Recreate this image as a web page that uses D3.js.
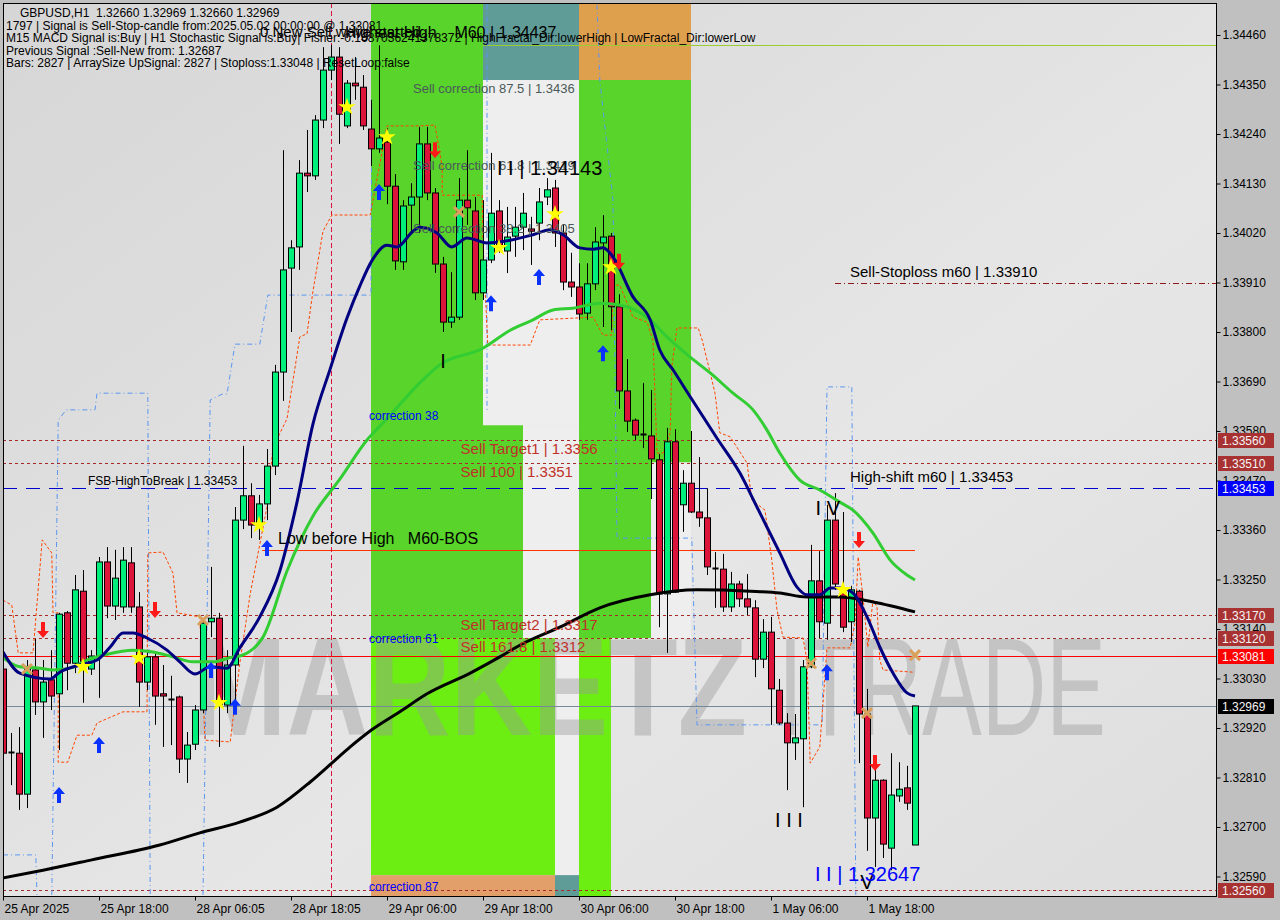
<!DOCTYPE html>
<html><head><meta charset="utf-8">
<script src="https://cdn.jsdelivr.net/npm/d3@7"></script>
<style>body{margin:0;background:#c0c0c0;overflow:hidden}svg{display:block;font-family:"Liberation Sans",Arial,sans-serif}</style>
</head><body><svg id="c" width="1280" height="920"></svg>
<script>
// ---------- DATA ----------
const xLabels = ["25 Apr 2025","25 Apr 18:00","28 Apr 06:05","28 Apr 18:05","29 Apr 06:00","29 Apr 18:00","30 Apr 06:00","30 Apr 18:00","1 May 06:00","1 May 18:00"];
const xTickIdx = [0,12,24,36,48,60,72,84,96,108];
const yTicks = [1.32590,1.32700,1.32810,1.32920,1.33030,1.33140,1.33250,1.33360,1.33470,1.33580,1.33690,1.33800,1.33910,1.34020,1.34130,1.34240,1.34350,1.34460];

const open = [1.33051,1.32867,1.32864,1.32773,1.33049,1.32978,1.33027,1.32996,1.33176,1.33064,1.33224,1.33051,1.33080,1.33289,1.33191,1.33189,1.33287,1.33189,1.33022,1.33078,1.32996,1.32984,1.32989,1.32851,1.32884,1.32960,1.33156,1.33164,1.32971,1.33060,1.33382,1.33436,1.33371,1.33418,1.33502,1.33711,1.33942,1.33989,1.34153,1.34147,1.34271,1.34382,1.34411,1.34258,1.34353,1.34344,1.34251,1.34207,1.34222,1.34124,1.33956,1.34082,1.34100,1.34218,1.34109,1.33951,1.33822,1.33833,1.34093,1.34069,1.33887,1.33960,1.34069,1.33980,1.34013,1.34033,1.34029,1.34042,1.34100,1.34120,1.34020,1.33911,1.33900,1.33842,1.33907,1.33998,1.34013,1.33856,1.33669,1.33604,1.33573,1.33569,1.33516,1.33218,1.33556,1.33416,1.33464,1.33400,1.33387,1.33276,1.33273,1.33189,1.33240,1.33207,1.33187,1.33073,1.33133,1.33004,1.32931,1.32887,1.32896,1.33056,1.33247,1.33153,1.33382,1.33220,1.33156,1.33224,1.32951,1.32720,1.32804,1.32653,1.32769,1.32787,1.32660];
const high = [1.33093,1.32909,1.32922,1.33071,1.33118,1.33071,1.33093,1.33176,1.33180,1.33260,1.33271,1.33093,1.33300,1.33322,1.33316,1.33322,1.33322,1.33222,1.33093,1.33087,1.33060,1.33036,1.32992,1.32911,1.32971,1.33160,1.33278,1.33176,1.33093,1.33411,1.33547,1.33464,1.33438,1.33540,1.33727,1.34204,1.34004,1.34182,1.34249,1.34282,1.34433,1.34438,1.34433,1.34360,1.34411,1.34371,1.34316,1.34437,1.34253,1.34151,1.34093,1.34131,1.34256,1.34256,1.34120,1.33967,1.33933,1.34142,1.34204,1.34100,1.34093,1.34198,1.34093,1.34078,1.34078,1.34109,1.34056,1.34120,1.34142,1.34138,1.34038,1.33976,1.33953,1.33953,1.34033,1.34060,1.34020,1.33884,1.33740,1.33608,1.33687,1.33671,1.33529,1.33587,1.33584,1.33493,1.33580,1.33522,1.33453,1.33311,1.33307,1.33267,1.33247,1.33262,1.33204,1.33162,1.33167,1.33029,1.32953,1.32951,1.33071,1.33327,1.33313,1.33416,1.33442,1.33400,1.33236,1.33227,1.33007,1.32827,1.32806,1.32864,1.32844,1.32836,1.32969];
const low = [1.32827,1.32793,1.32738,1.32742,1.32949,1.32898,1.32960,1.32871,1.33004,1.33042,1.32976,1.33038,1.32987,1.33164,1.33160,1.33176,1.33176,1.32967,1.33004,1.32927,1.32878,1.32882,1.32820,1.32798,1.32871,1.32953,1.33122,1.32878,1.32953,1.32953,1.33362,1.33342,1.33338,1.33382,1.33482,1.33647,1.33800,1.33938,1.34111,1.34138,1.34253,1.34360,1.34218,1.34253,1.34316,1.34249,1.34169,1.34198,1.34084,1.33938,1.33938,1.34020,1.34020,1.34093,1.33931,1.33800,1.33809,1.33827,1.34038,1.33871,1.33871,1.33953,1.33976,1.33931,1.33967,1.33982,1.33949,1.34004,1.34082,1.33989,1.33893,1.33878,1.33827,1.33827,1.33893,1.33811,1.33804,1.33629,1.33578,1.33560,1.33542,1.33429,1.33144,1.33087,1.33220,1.33356,1.33398,1.33367,1.33260,1.33187,1.33178,1.33178,1.33189,1.33171,1.33033,1.33053,1.32927,1.32927,1.32782,1.32849,1.32744,1.33053,1.33120,1.33116,1.33227,1.33133,1.33111,1.32842,1.32647,1.32611,1.32631,1.32604,1.32756,1.32738,1.32660];
const close = [1.32864,1.32865,1.32773,1.33053,1.32978,1.33022,1.32991,1.33173,1.33064,1.33227,1.33064,1.33080,1.33289,1.33191,1.33253,1.33293,1.33189,1.33022,1.33078,1.32991,1.32991,1.32982,1.32851,1.32882,1.32960,1.33153,1.33164,1.32971,1.33060,1.33382,1.33436,1.33371,1.33418,1.33502,1.33711,1.33938,1.33987,1.34153,1.34147,1.34271,1.34382,1.34411,1.34284,1.34353,1.34347,1.34258,1.34207,1.34231,1.34124,1.33958,1.34080,1.34100,1.34218,1.34109,1.33951,1.33822,1.33833,1.34093,1.34076,1.33887,1.33960,1.34064,1.33991,1.34011,1.34033,1.34064,1.34024,1.34089,1.34116,1.34020,1.33911,1.33900,1.33840,1.33907,1.34000,1.34011,1.33856,1.33669,1.33602,1.33571,1.33569,1.33518,1.33218,1.33556,1.33222,1.33464,1.33400,1.33387,1.33278,1.33274,1.33189,1.33240,1.33207,1.33189,1.33073,1.33133,1.33007,1.32931,1.32887,1.32898,1.33056,1.33247,1.33156,1.33382,1.33240,1.33144,1.33227,1.32951,1.32720,1.32804,1.32662,1.32771,1.32784,1.32753,1.32969];

// moving averages: [bar index, price]
const maFast = [[0,1.33089],[2.1,1.33042],[5.9,1.33029],[7.1,1.33044],[9.6,1.33060],[11.75,1.33071],[13.4,1.33100],[15,1.33131],[16.25,1.33131],[18,1.33120],[20.5,1.33093],[22.1,1.33067],[24,1.33040],[25.9,1.33056],[28,1.33053],[29.6,1.33098],[32.1,1.33167],[34.6,1.33269],[36.75,1.33422],[38.75,1.33596],[40.9,1.33718],[43,1.33831],[44.6,1.33902],[46.1,1.33958],[48,1.33993],[49.25,1.33989],[51.25,1.34024],[52.1,1.34033],[54.25,1.34020],[56.1,1.33989],[58,1.34009],[60.5,1.33998],[63.4,1.34004],[66.25,1.34016],[68.4,1.34027],[70,1.34016],[72.1,1.33987],[73.75,1.33984],[75,1.33987],[76.25,1.33967],[78.75,1.33878],[80.9,1.33827],[82.1,1.33760],[83.75,1.33716],[85.9,1.33656],[89.25,1.33564],[92.1,1.33487],[94.25,1.33411],[97.1,1.33309],[99.25,1.33233],[100.5,1.33216],[102.1,1.33216],[103.4,1.33231],[104.6,1.33231],[106.25,1.33220],[108,1.33167],[109.6,1.33100],[111.25,1.33042],[113,1.32998],[114,1.32991]];
const maSlow = [[0,1.33076],[2.1,1.33056],[4.6,1.33053],[6.25,1.33049],[8.4,1.33053],[10.5,1.33071],[13,1.33084],[16.25,1.33093],[18.75,1.33089],[21.25,1.33078],[23.75,1.33067],[26.25,1.33067],[28.75,1.33078],[29.6,1.33080],[32.5,1.33122],[35.5,1.33269],[38.75,1.33391],[42.1,1.33473],[45.5,1.33560],[48,1.33607],[52.1,1.33687],[54.6,1.33727],[60,1.33764],[63.4,1.33804],[66.25,1.33827],[68.75,1.33849],[71.25,1.33853],[74.6,1.33864],[77.1,1.33860],[80.9,1.33827],[83,1.33789],[85.9,1.33744],[88.4,1.33709],[91.25,1.33664],[93.75,1.33627],[95.5,1.33582],[97.1,1.33531],[99.6,1.33471],[102.1,1.33449],[104.6,1.33422],[106.25,1.33404],[108.75,1.33353],[110.9,1.33293],[113,1.33260],[114,1.33249]];
const maLong = [[0,1.32587],[5,1.32604],[11.1,1.32627],[19.6,1.32660],[24.6,1.32687],[29.6,1.32711],[34.25,1.32744],[38.4,1.32800],[41.1,1.32842],[43.4,1.32878],[46.1,1.32916],[49.6,1.32956],[53,1.32996],[58.4,1.33042],[62.1,1.33078],[64.6,1.33104],[69.6,1.33144],[74.6,1.33187],[80.9,1.33216],[86.75,1.33227],[93.4,1.33224],[97.1,1.33220],[100.5,1.33211],[104.6,1.33211],[108.75,1.33200],[114,1.33178]];

// stepped envelope (orange dashed) and fractal channel (blue dashed); null breaks a segment
const envelope = [[0,1.33204],[1.1,1.33193],[1.9,1.33087],[3.75,1.33087],[4.9,1.33338],[6.1,1.33309],[6.25,1.33176],[6.9,1.33176],[6.9,1.32844],[8.1,1.32844],[9.25,1.32904],[11.1,1.32904],[11.75,1.32931],[15,1.32956],[18,1.32956],[18.1,1.33309],[20,1.33311],[21.25,1.33264],[21.75,1.33176],[24.6,1.33167],[25.25,1.32893],[28.4,1.32889],[29.6,1.33064],[30.9,1.33218],[33,1.33411],[33.75,1.33544],[35.5,1.33607],[37.1,1.33789],[38,1.33796],[38.75,1.33891],[40,1.34024],[41.1,1.34060],[45.9,1.34060],[48,1.34258],[52.1,1.34258],[54,1.34260],[54.9,1.34167],[54.9,1.34104],[59.9,1.34104],[60,1.33998],[60.6,1.33771],[65.9,1.33771],[67.1,1.33827],[73.75,1.33833],[75,1.33793],[76.1,1.33793],[76.25,1.33904],[77.1,1.33904],[78.75,1.33833],[80.5,1.33822],[81.25,1.33782],[81.75,1.33531],[82.5,1.33531],[83.4,1.33576],[83.6,1.33722],[84.25,1.33809],[86.9,1.33809],[87.4,1.33782],[88.4,1.33709],[89,1.33664],[89.6,1.33576],[90.9,1.33567],[93,1.33509],[93.6,1.33427],[95.25,1.33404],[96.1,1.33293],[96.75,1.33182],[97.5,1.33122],[100,1.33120],[100.5,1.33071],[100.9,1.32842],[102.1,1.32878],[103,1.33098],[105.9,1.33098],[106.5,1.33153],[106.9,1.33300],[107.5,1.33211],[108.1,1.33100],[108.75,1.33204],[109.25,1.33189],[109.6,1.33071],[110,1.33049],[113.75,1.33044]];
const channel = [[0,1.32638],[4.1,1.32638],[4.25,1.32549],null,[6.1,1.32549],[6.9,1.33604],[7.9,1.33627],[11.5,1.33627],[11.75,1.33664],[18.1,1.33664],[18.4,1.32549],null,[25,1.32549],[25.9,1.33649],[27.4,1.33662],[28,1.33662],[29,1.33773],[32.1,1.33773],[33.1,1.33882],[46,1.33882],[46.1,1.34316],null,[60.5,1.34527],[60.5,1.33627],null,[74.25,1.34527],[74.6,1.34360],[76.25,1.34093],[76.75,1.33342],[86.1,1.33342],[86.75,1.32927],[102.4,1.32927],[103,1.33678],[106.1,1.33678],[106.6,1.32549]];

// signal markers: [bar index, price]
const stars = [[10,1.33056],[17,1.33076],[27,1.32976],[32,1.33371],[43,1.34300],[48,1.34233],[62,1.33987],[69,1.34062],[76,1.33944],[105,1.33227]];
const buyArrows = [[7,1.32771],[12,1.32882],[26,1.33049],[29,1.32967],[33,1.33320],[47,1.34111],[61,1.33864],[67,1.33922],[75,1.33753],[103,1.33044]];
const sellArrows = [[5,1.33138],[19,1.33182],[54,1.34204],[77,1.33956],[107,1.33338],[109,1.32842]];
const crosses = [[3,1.33051],[25,1.33160],[57,1.34067],[101,1.33064],[108,1.32953],[114,1.33082]];

// zones: [from bar, to bar, top price, bottom price]
const greenZones = [[46,60,1.3456,1.3312],[60,65,1.33593,1.3312],[72,81,1.3436,1.3312],[81,86,1.3436,1.3351]];
const limeZones = [[46,69,1.3312,1.32593],[72,76,1.3312,1.3250]];
const paleZones = [[60,72,1.3436,1.33593],[65,72,1.33593,1.3312],[69,72,1.3312,1.32593],[81,86,1.3351,1.3312]];
const tealZones = [[60,72,1.3456,1.3436],[69,72,1.32593,1.3250]];
const orangeZones = [[72,86,1.3456,1.3436]];
const salmonZones = [[46,69,1.32593,1.3250]];

// levels
const targetLevels = [1.33560,1.33510,1.33170,1.33120,1.32560];
const stopLevel = 1.33910, breakLevel = 1.33453, signalLevel = 1.33081, bidLevel = 1.32969, bosLevel = 1.33316, highestHigh = 1.34437;
const targetTexts = [["Sell Target1 | 1.3356",1.3356],["Sell 100 | 1.3351",1.3351],["Sell Target2 | 1.3317",1.3317],["Sell 161.8 | 1.3312",1.3312]];
const corrTexts = [["Sell correction 87.5 | 1.3436",1.3436],["Sell correction 61.8 | 1.3419",1.3419],["Sell correction 38.2 | 1.3405",1.3405]];
const fibTexts = [["correction 38",1.33593,-5],["correction 61",1.3312,5],["correction 87",1.32593,16]];
const axisBoxes = [[1.33560,"t"],[1.33510,"t"],[1.33453,"b"],[1.33170,"t"],[1.33120,"t"],[1.33081,"s"],[1.32969,"p"],[1.32560,"t"]];
const waveLabels = [["I",55,1.33720,"#000","middle"],["I I | 1.34143",61.75,1.34150,"#000","start"],["I I I",98.25,1.32700,"#000","middle"],["I V",103.1,1.33393,"#000","middle"],["V",108,1.32562,"#000","middle"],["I I | 1.32647",101.5,1.32580,"#0000ff","start"]];
const signalBar = 41;
const headerLines = ["GBPUSD,H1  1.32660 1.32969 1.32660 1.32969","1797 | Signal is Sell-Stop-candle from:2025.05.02 00:00:00 @ 1.33081","M15 MACD Signal is:Buy | H1 Stochastic Signal is:Buy| Fisher:-0.1687036241378372 | HighFractal_Dir:lowerHigh | LowFractal_Dir:lowerLow","Previous Signal :Sell-New from: 1.32687","Bars: 2827 | ArraySize UpSignal: 2827 | Stoploss:1.33048 | ResetLoop:false"];

// ---------- DRAW ----------
const svg = d3.select("#c");
const L = 3, R = 1216, T = 3, B = 896;
const x = d3.scaleLinear().domain([0,114]).range([3,915]);
const y = d3.scaleLinear().domain([1.32590,1.34460]).range([876.5,35]);

const defs = svg.append("defs");
defs.append("clipPath").attr("id","clip").append("rect").attr("x",L+1).attr("y",T+1).attr("width",R-L-1).attr("height",B-T-1);
const grad = defs.append("linearGradient").attr("id","bg").attr("x1","0").attr("y1","0").attr("x2","1").attr("y2","1");
grad.append("stop").attr("offset","0").attr("stop-color","#d6d6d6");
grad.append("stop").attr("offset","0.6").attr("stop-color","#e6e6e6");
grad.append("stop").attr("offset","1").attr("stop-color","#dedede");

svg.append("rect").attr("width",1280).attr("height",920).attr("fill","#c0c0c0");
svg.append("rect").attr("x",L).attr("y",T).attr("width",R-L).attr("height",B-T).attr("fill","url(#bg)");

const plot = svg.append("g").attr("clip-path","url(#clip)");

function zones(arr, color){
  plot.selectAll(null).data(arr).enter().append("rect")
    .attr("x",d=>x(d[0])).attr("width",d=>x(d[1])-x(d[0]))
    .attr("y",d=>y(d[2])).attr("height",d=>y(d[3])-y(d[2])).attr("fill",color);
}
zones(greenZones,"#58d42a");
zones(limeZones,"#6cee12");
zones(paleZones,"#eeeeee");
zones(tealZones,"#5f9c98");
zones(orangeZones,"#dfa04e");
zones(salmonZones,"#e39f69");

// watermark
plot.append("text").attr("x",192).attr("y",735).attr("font-size",140).attr("font-weight","bold")
  .attr("textLength",555).attr("lengthAdjust","spacingAndGlyphs").attr("fill","#9a9a9a").attr("opacity",0.42).text("MARKETZ");
plot.append("text").attr("x",778).attr("y",735).attr("font-size",140)
  .attr("textLength",328).attr("lengthAdjust","spacingAndGlyphs").attr("fill","#9a9a9a").attr("opacity",0.42).text("ITRADE");

// horizontal levels
plot.selectAll(null).data(targetLevels).enter().append("line")
  .attr("x1",L).attr("x2",R).attr("y1",d=>Math.round(y(d))+0.5).attr("y2",d=>Math.round(y(d))+0.5)
  .attr("stroke","#a52a2a").attr("stroke-dasharray","3,3");
plot.append("line").attr("x1",835).attr("x2",R).attr("y1",Math.round(y(stopLevel))+0.5).attr("y2",Math.round(y(stopLevel))+0.5)
  .attr("stroke","#8b1a1a").attr("stroke-dasharray","6,3,1,3");
plot.append("line").attr("x1",L).attr("x2",R).attr("y1",Math.round(y(breakLevel))+0.5).attr("y2",Math.round(y(breakLevel))+0.5)
  .attr("stroke","#0000cd").attr("stroke-width",1.2).attr("stroke-dasharray","14,9");
plot.append("line").attr("x1",L).attr("x2",R).attr("y1",Math.round(y(signalLevel))+0.5).attr("y2",Math.round(y(signalLevel))+0.5).attr("stroke","#ff0000");
plot.append("line").attr("x1",L).attr("x2",R).attr("y1",Math.round(y(bidLevel))+0.5).attr("y2",Math.round(y(bidLevel))+0.5).attr("stroke","#778899");
plot.append("line").attr("x1",x(32.4)).attr("x2",x(114)).attr("y1",Math.round(y(bosLevel))+0.5).attr("y2",Math.round(y(bosLevel))+0.5).attr("stroke","#ff3300");
plot.append("line").attr("x1",x(60)).attr("x2",R).attr("y1",Math.round(y(highestHigh))+0.5).attr("y2",Math.round(y(highestHigh))+0.5).attr("stroke","#9acd32");

// signal vertical
plot.append("line").attr("x1",x(signalBar)+0.5).attr("x2",x(signalBar)+0.5).attr("y1",T).attr("y2",B)
  .attr("stroke","#dc143c").attr("stroke-dasharray","5,3");

// stepped lines
const stepLine = d3.line().defined(d=>d!==null).x(d=>x(d[0])).y(d=>y(d[1]));
plot.append("path").attr("d",stepLine(channel)).attr("fill","none").attr("stroke","#5b96f0").attr("stroke-dasharray","5,3,1,3");
plot.append("path").attr("d",stepLine(envelope)).attr("fill","none").attr("stroke","#ff4500").attr("stroke-dasharray","3,2");

// candles
const cg = plot.append("g");
d3.range(open.length).forEach(i=>{
  const o=open[i], c=close[i], h=high[i], l=low[i];
  const cx = Math.round(x(i))+0.5;
  cg.append("line").attr("x1",cx).attr("x2",cx).attr("y1",y(h)).attr("y2",y(l)).attr("stroke","#000");
  const top = y(Math.max(o,c)), bot = y(Math.min(o,c));
  if (bot-top < 2) {
    cg.append("line").attr("x1",cx-3).attr("x2",cx+3).attr("y1",Math.round(top)+0.5).attr("y2",Math.round(top)+0.5).attr("stroke","#000").attr("stroke-width",2);
  } else {
    cg.append("rect").attr("x",cx-3).attr("y",top).attr("width",6).attr("height",bot-top)
      .attr("fill", c>=o ? "#00ee7a" : "#dc143c").attr("stroke","#000");
  }
});

// moving averages
const maLine = d3.line().x(d=>x(d[0])).y(d=>y(d[1])).curve(d3.curveMonotoneX);
plot.append("path").attr("d",maLine(maLong)).attr("fill","none").attr("stroke","#000").attr("stroke-width",3);
plot.append("path").attr("d",maLine(maSlow)).attr("fill","none").attr("stroke","#32cd32").attr("stroke-width",3);
plot.append("path").attr("d",maLine(maFast)).attr("fill","none").attr("stroke","#000080").attr("stroke-width",3);

// markers
plot.selectAll(null).data(crosses).enter().append("path")
  .attr("transform",d=>`translate(${x(d[0])},${y(d[1])})`).attr("d","M-5,-5L5,5M-5,5L5,-5")
  .attr("stroke","#d9a05b").attr("stroke-width",3);
plot.selectAll(null).data(stars).enter().append("path")
  .attr("transform",d=>`translate(${x(d[0])},${y(d[1])})`).attr("d",d3.symbol(d3.symbolStar,95)())
  .attr("fill","#ffff00");
const arrowPath = "M0,-8L6,-1L2,-1L2,8L-2,8L-2,-1L-6,-1Z";
plot.selectAll(null).data(buyArrows).enter().append("path")
  .attr("transform",d=>`translate(${x(d[0])},${y(d[1])})`).attr("d",arrowPath).attr("fill","#0a32ff");
plot.selectAll(null).data(sellArrows).enter().append("path")
  .attr("transform",d=>`translate(${x(d[0])},${y(d[1])}) rotate(180)`).attr("d",arrowPath).attr("fill","#ff1a1a");

// level texts
plot.selectAll(null).data(targetTexts).enter().append("text")
  .attr("x",d=>x(57.2)).attr("y",d=>y(d[1])+14).attr("font-size",15).attr("fill","#c0302a").text(d=>d[0]);
plot.selectAll(null).data(corrTexts).enter().append("text")
  .attr("x",x(51.25)).attr("y",d=>y(d[1])+13).attr("font-size",13).attr("fill","#4a5a5a").text(d=>d[0]);
plot.selectAll(null).data(fibTexts).enter().append("text")
  .attr("x",x(46)-2).attr("y",d=>y(d[1])+d[2]).attr("font-size",12).attr("fill","#0000ff").text(d=>d[0]);
plot.append("text").attr("x",850).attr("y",y(stopLevel)-6).attr("font-size",15).attr("fill","#000").text("Sell-Stoploss m60 | 1.33910");
plot.append("text").attr("x",850).attr("y",y(breakLevel)-6).attr("font-size",15).attr("fill","#000").text("High-shift m60 | 1.33453");
plot.append("text").attr("x",88).attr("y",y(breakLevel)-3).attr("font-size",12).attr("fill","#000").text("FSB-HighToBreak | 1.33453");
plot.append("text").attr("x",278).attr("y",y(bosLevel)-6).attr("font-size",16).attr("fill","#000").style("white-space","pre").text("Low before High   M60-BOS");

// wave labels
plot.selectAll(null).data(waveLabels).enter().append("text")
  .attr("x",d=>x(d[1])).attr("y",d=>y(d[2])).attr("text-anchor",d=>d[4]).attr("font-size",20).attr("fill",d=>d[3]).text(d=>d[0]);

// header texts
plot.append("text").attr("x",260).attr("y",37).attr("font-size",15).attr("fill","#000").text("0 New Sell wave started");
plot.append("text").attr("x",345).attr("y",38).attr("font-size",16).attr("fill","#000").style("white-space","pre").text("Highest High    M60 | 1.34437");
svg.selectAll(".hdr").data(headerLines).enter().append("text").attr("class","hdr")
  .attr("x",(d,i)=>i===0?20:6).attr("y",(d,i)=>17+i*12.5).attr("font-size",12).attr("fill","#000").style("white-space","pre").text(d=>d);

// frame
svg.append("rect").attr("x",L+0.5).attr("y",T+0.5).attr("width",R-L).attr("height",B-T).attr("fill","none").attr("stroke","#000");

// right axis
const ya = svg.append("g").attr("transform",`translate(${R+0.5},0)`)
  .call(d3.axisRight(y).tickValues(yTicks).tickSize(4).tickPadding(2).tickFormat(d3.format(".5f")));
ya.select(".domain").remove();
ya.selectAll("text").attr("font-family","Liberation Sans, Arial, sans-serif").attr("font-size",12).attr("fill","#000");
ya.selectAll("line").attr("stroke","#000");

const boxColor = {t:"#a83232", b:"#0000ff", s:"#ff0000", p:"#000000"};
const bx = svg.append("g");
axisBoxes.forEach(([p,k])=>{
  const yy = Math.round(y(p));
  bx.append("rect").attr("x",R+2).attr("y",yy-7).attr("width",56).attr("height",15).attr("fill",boxColor[k]);
  bx.append("text").attr("x",R+6).attr("y",yy+5).attr("font-size",12).attr("fill","#f4f4f4").text(d3.format(".5f")(p));
});

// bottom axis
const xa = svg.append("g").attr("transform",`translate(0,${B+0.5})`)
  .call(d3.axisBottom(x).tickValues(xTickIdx).tickSize(4).tickFormat((d,i)=>xLabels[i]));
xa.select(".domain").remove();
xa.selectAll("line").attr("stroke","#000");
xa.selectAll("text").attr("text-anchor","start").attr("dx",1).attr("y",8).attr("font-family","Liberation Sans, Arial, sans-serif").attr("font-size",12).attr("fill","#000");
</script></body></html>
